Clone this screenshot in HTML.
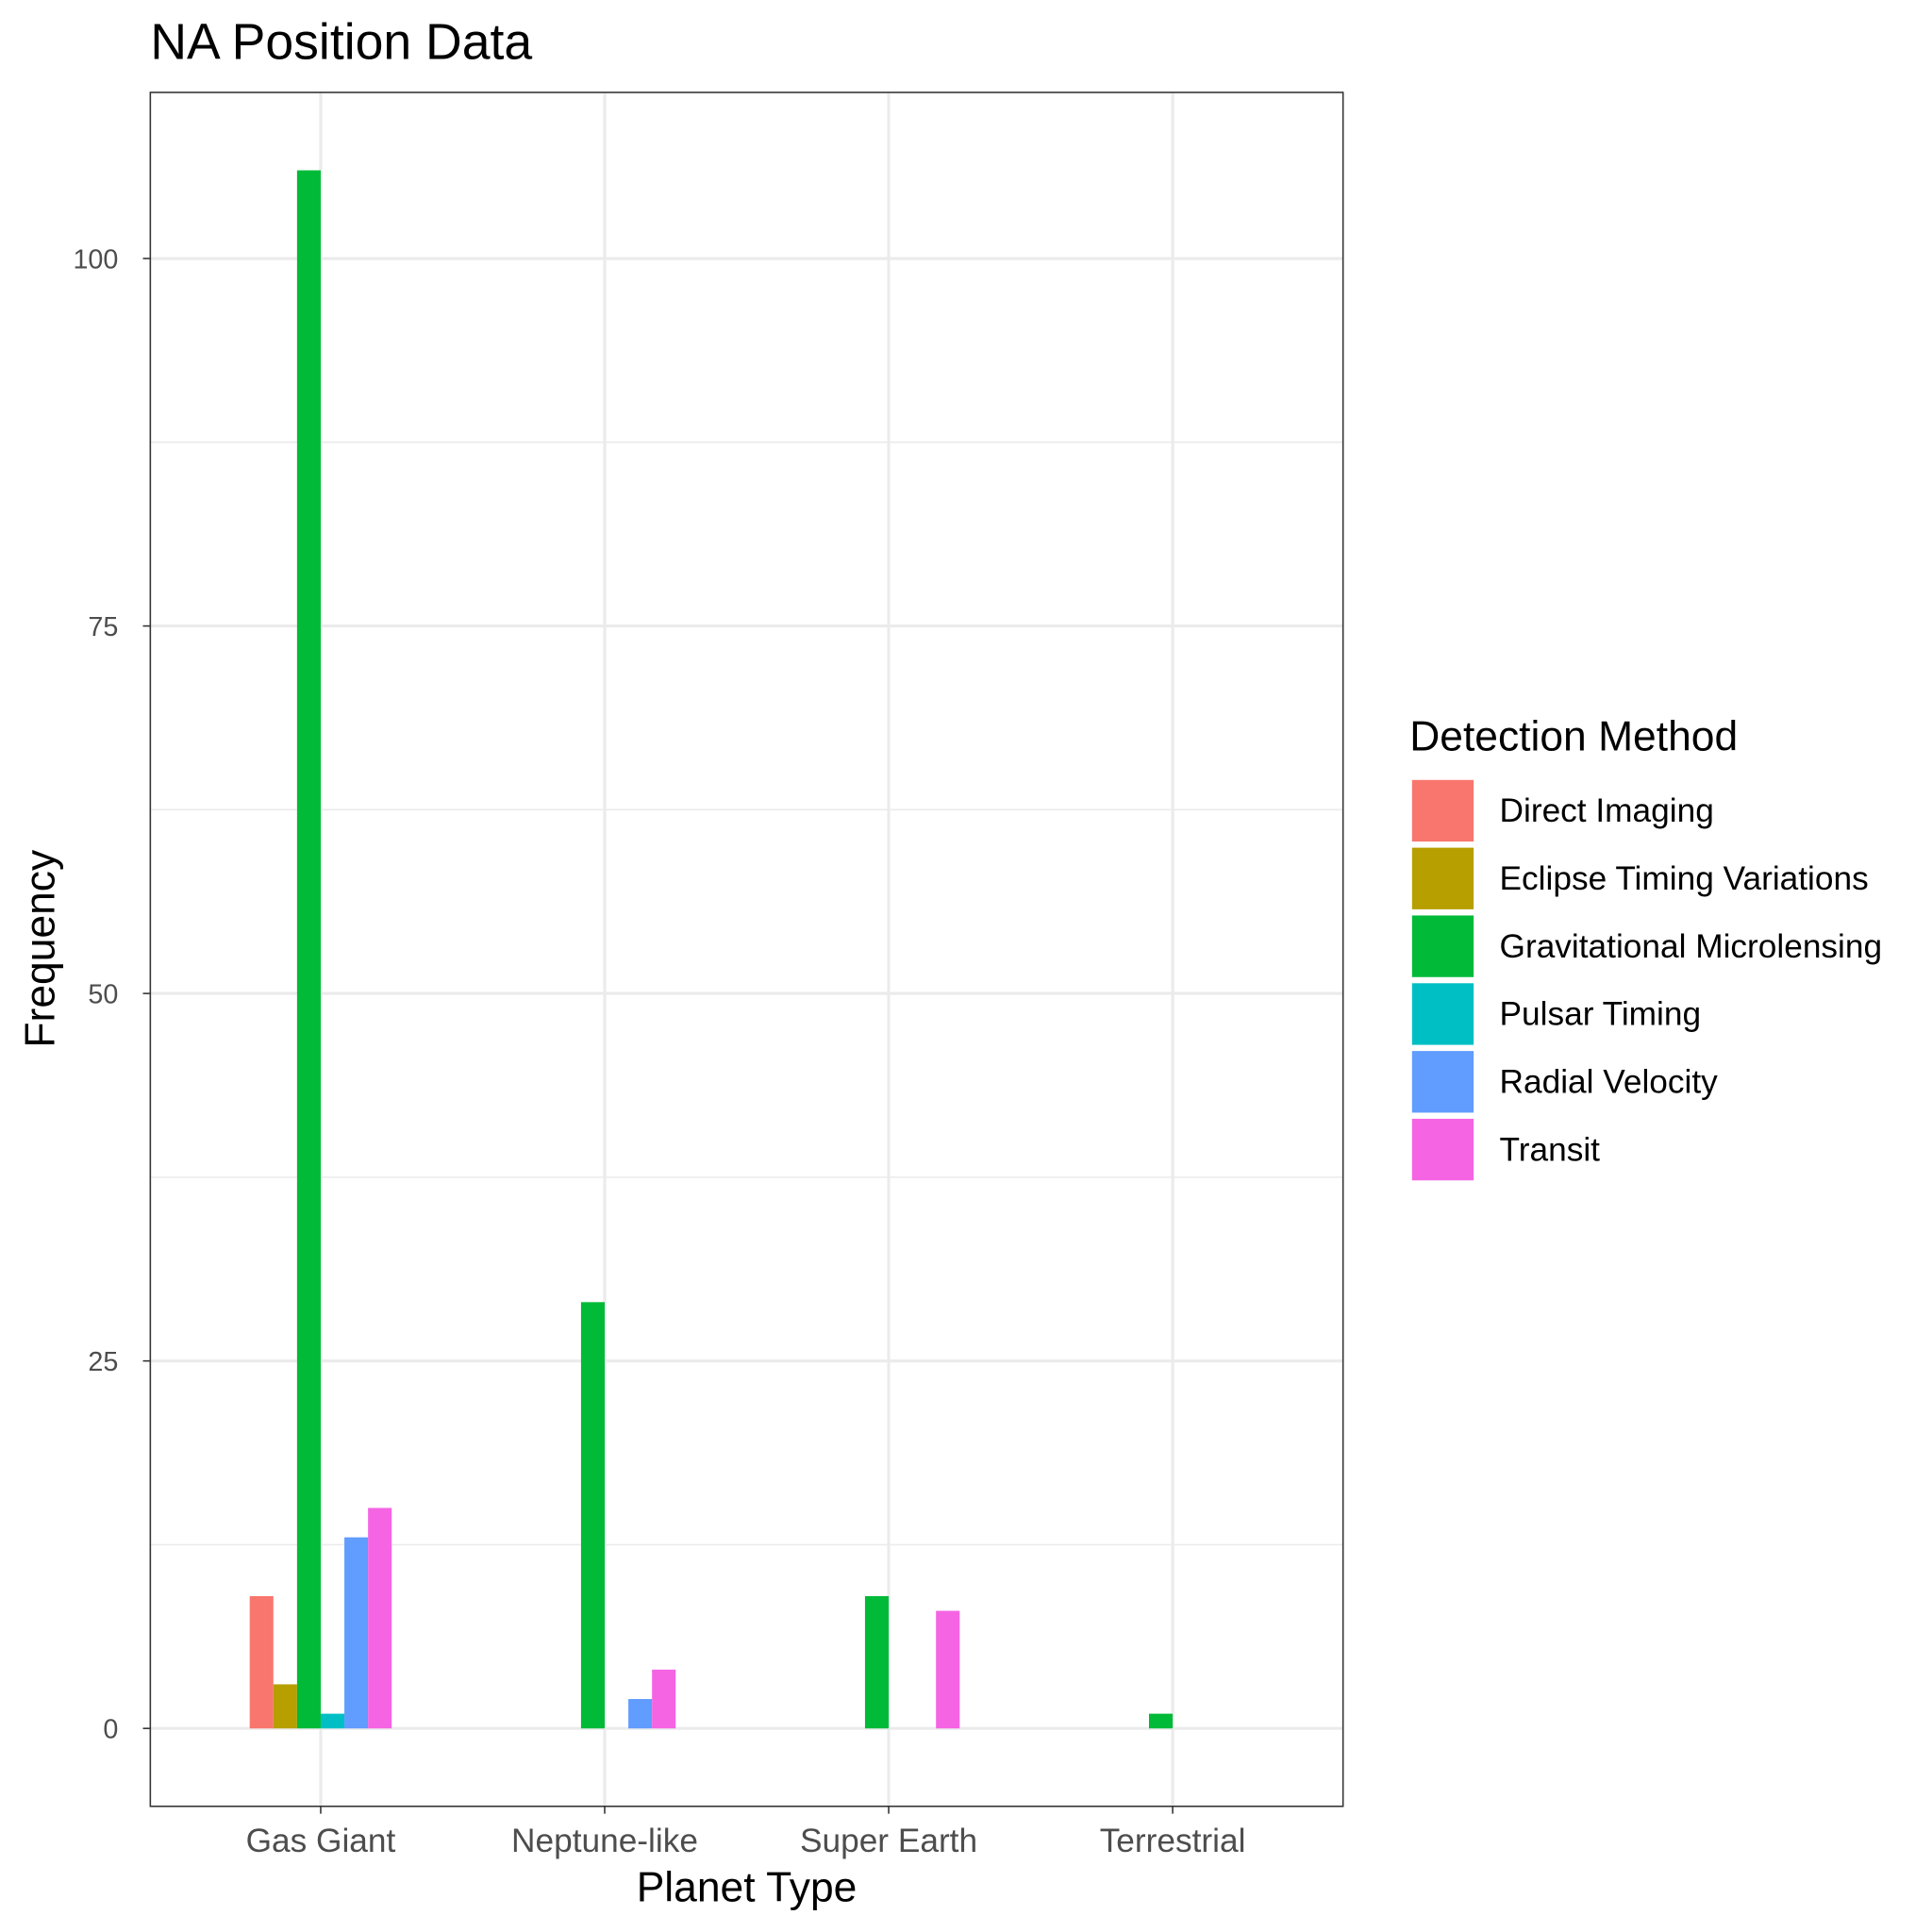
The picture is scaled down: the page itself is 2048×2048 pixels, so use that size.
<!DOCTYPE html>
<html><head><meta charset="utf-8"><style>html,body{margin:0;padding:0;background:#fff}svg{display:block}text{font-family:"Liberation Sans",sans-serif}</style></head>
<body>
<svg id="chart" width="2048" height="2048" viewBox="0 0 1568 1568" xmlns="http://www.w3.org/2000/svg">
<rect width="1568" height="1568" fill="#fff"/>
<text x="122" y="48" font-size="41">NA Position Data</text>
<g id="grid"></g>
<g id="bars"></g>
<rect x="122" y="75" width="968" height="1391" fill="none" stroke="#333" stroke-width="1.2"/>
<g id="axes"></g>
<text x="606" y="1543" font-size="34" text-anchor="middle">Planet Type</text>
<text transform="translate(44,770) rotate(-90)" font-size="34" text-anchor="middle">Frequency</text>
<g id="legend"></g>
</svg>
<script>
const categories = ["Gas Giant","Neptune-like","Super Earth","Terrestrial"];
const methods = ["Direct Imaging","Eclipse Timing Variations","Gravitational Microlensing","Pulsar Timing","Radial Velocity","Transit"];
const colors = ["#F8766D","#B79F00","#00BA38","#00BFC4","#619CFF","#F564E3"];
const directImaging = [9,0,0,0];
const eclipseTiming = [3,0,0,0];
const microlensing = [106,29,9,1];
const pulsarTiming = [1,0,0,0];
const radialVelocity = [13,2,0,0];
const transit = [15,4,8,0];
const series = [directImaging,eclipseTiming,microlensing,pulsarTiming,radialVelocity,transit];
const yTicks = [0,25,50,75,100];
const yMinor = [12.5,37.5,62.5,87.5];

const NS="http://www.w3.org/2000/svg";
const px0=122,px1=1090,py0=75,py1=1466;
const yMin=-5.3,yMax=111.3;
const y=v=>py1-(v-yMin)/(yMax-yMin)*(py1-py0);
const xStep=(px1-px0)/(categories.length+0.2);
const x=i=>px0+xStep*(0.6+i);
function mk(tag,attrs,parent){const e=document.createElementNS(NS,tag);for(const k in attrs)e.setAttribute(k,attrs[k]);parent.appendChild(e);return e;}
const grid=document.getElementById('grid'),bars=document.getElementById('bars'),axes=document.getElementById('axes'),legend=document.getElementById('legend');
yMinor.forEach(v=>{const l=mk('line',{x1:px0,x2:px1,y1:y(v),y2:y(v),stroke:'#ebebeb','stroke-width':1.2},grid);

});
yTicks.forEach(v=>{const l=mk('line',{x1:px0,x2:px1,y1:y(v),y2:y(v),stroke:'#ebebeb','stroke-width':2.4},grid);


const t=mk('line',{x1:px0-6,x2:px0,y1:y(v),y2:y(v),stroke:'#333','stroke-width':1.2},axes);


const tx=mk('text',{x:96,y:y(v)+8,'font-size':22,fill:'#4d4d4d','text-anchor':'end'},axes);tx.textContent=v;

});
categories.forEach((c,i)=>{const l=mk('line',{x1:x(i),x2:x(i),y1:py0,y2:py1,stroke:'#ebebeb','stroke-width':2.4},grid);


const t=mk('line',{x1:x(i),x2:x(i),y1:py1,y2:py1+6,stroke:'#333','stroke-width':1.2},axes);


const tx=mk('text',{x:x(i),y:py1+37,'font-size':27,fill:'#4d4d4d','text-anchor':'middle'},axes);tx.textContent=c;

});
const groupW=xStep*0.5,bw=groupW/methods.length;
series.forEach((s,m)=>s.forEach((v,i)=>{if(v<=0)return;
const r=mk('rect',{x:x(i)-groupW/2+m*bw,y:y(v),width:bw,height:y(0)-y(v),fill:colors[m]},bars);

}));
const lt=mk('text',{x:1144,y:609,'font-size':34},legend);lt.textContent='Detection Method';


methods.forEach((m,k)=>{const yy=633+k*55;
const r=mk('rect',{x:1146,y:yy,width:50,height:50,fill:colors[k]},legend);


const t=mk('text',{x:1217,y:yy+34,'font-size':27},legend);t.textContent=m;

});
</script>
</body></html>
